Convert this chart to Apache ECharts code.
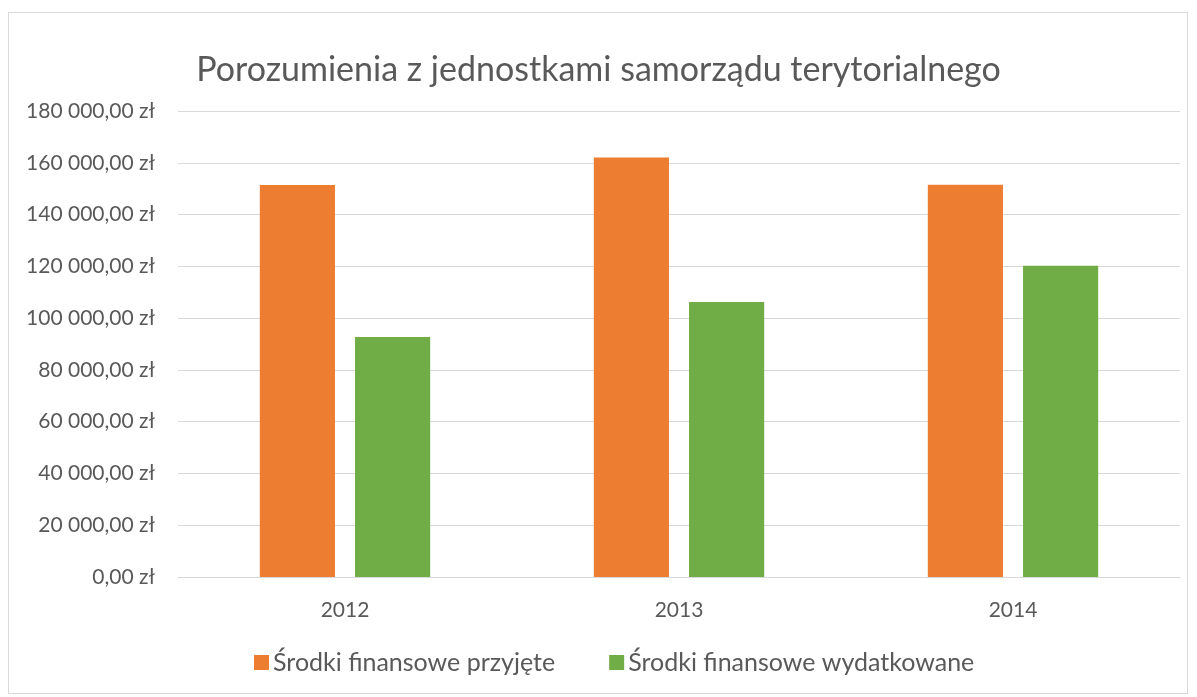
<!DOCTYPE html>
<html><head><meta charset="utf-8">
<script src="https://cdn.jsdelivr.net/npm/echarts@6/dist/echarts.min.js"></script>
<style>
html,body{margin:0;padding:0;background:#fff;}
#frame{position:absolute;left:8px;top:12px;width:1180px;height:682px;border:1px solid #d9d9d9;box-sizing:border-box;}
#c{position:absolute;left:0;top:0;width:1197px;height:697px;}
</style></head>
<body><div id="frame"></div><div id="c"></div>
<script>
const categories = ['2012', '2013', '2014'];
const seriesNames = ['Środki finansowe przyjęte', 'Środki finansowe wydatkowane'];
const przyjete = [151400, 162000, 151500];
const wydatkowane = [92700, 106200, 120200];
const yTicks = [0, 20000, 40000, 60000, 80000, 100000, 120000, 140000, 160000, 180000];

const FONT = 'Lato';
function fmt(v){
  const s = Math.round(v).toString().replace(/\B(?=(\d{3})+(?!\d))/g, ' ');
  return s + ',00 zł';
}
const chart = echarts.init(document.getElementById('c'));
chart.setOption({
  animation:false,
  title:{text:'Porozumienia z jednostkami samorządu terytorialnego',left:'center',top:48,
    textStyle:{fontFamily:FONT,fontSize:34,fontWeight:'normal',color:'#595959'}},
  legend:{bottom:17,left:249,itemWidth:15,itemHeight:15,itemGap:54,icon:'rect',
    textStyle:{fontFamily:FONT,fontSize:25,color:'#595959',padding:[0,0,0,-1]},data:seriesNames},
  grid:{left:178,right:17,top:111,bottom:120},
  xAxis:{type:'category',data:categories,
    axisLine:{lineStyle:{color:'#d9d9d9',width:1}},axisTick:{show:false},
    axisLabel:{fontFamily:FONT,fontSize:21,color:'#595959',margin:23}},
  yAxis:{type:'value',min:0,max:yTicks[yTicks.length-1],interval:yTicks[1]-yTicks[0],
    axisLine:{show:false},axisTick:{show:false},
    splitLine:{lineStyle:{color:'#d9d9d9',width:1}},
    axisLabel:{fontFamily:FONT,fontSize:21,color:'#595959',margin:23,formatter:fmt}},
  series:[
    {name:seriesNames[0],type:'bar',data:przyjete,barWidth:'22.5%',barGap:'26.7%',itemStyle:{color:'#ED7D31'}},
    {name:seriesNames[1],type:'bar',data:wydatkowane,barWidth:'22.5%',itemStyle:{color:'#70AD47'}}
  ]
});
</script></body></html>
